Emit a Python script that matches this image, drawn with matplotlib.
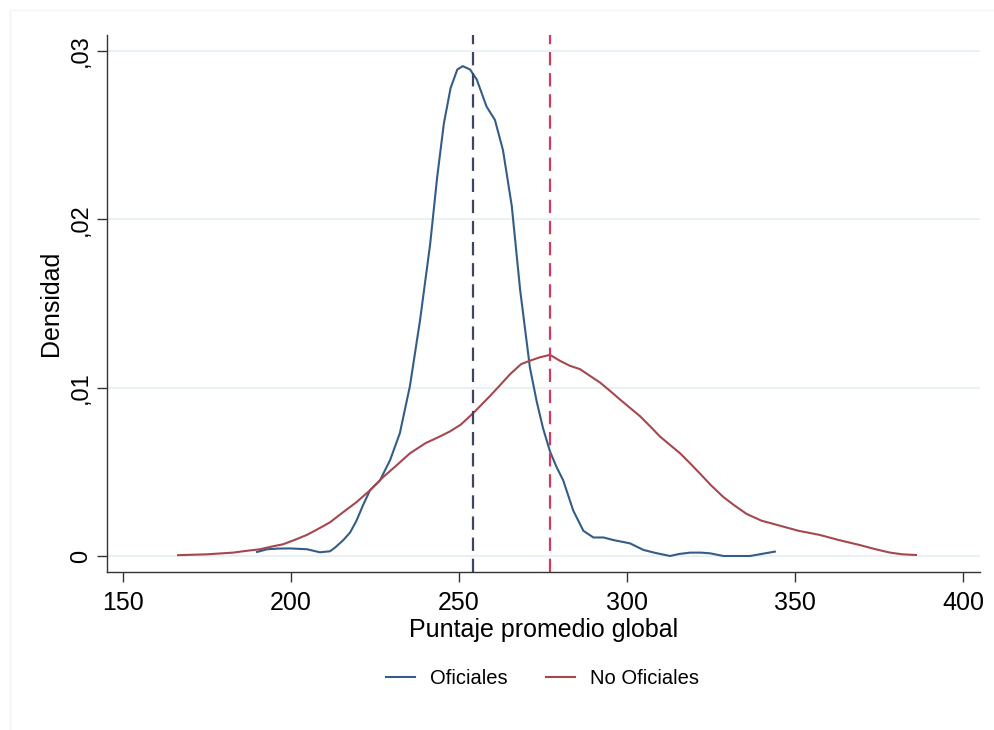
import numpy as np
import matplotlib.pyplot as plt
from matplotlib.patches import Rectangle

plt.rcParams['font.family'] = ['Liberation Sans', 'DejaVu Sans']

# Oficiales (kernel density)
x_of = [189.9, 192.9, 196.0, 199.7, 204.8, 208.6, 211.6, 213.1, 215.6, 217.6, 219.5, 221.4,
        223.5, 226.5, 229.5, 232.4, 235.4, 238.4, 241.4, 243.5, 245.5, 247.5, 249.5, 251.1,
        253.3, 255.3, 258.2, 260.7, 263.1, 265.7, 268.2, 271.1, 273.1, 275.0, 277.1, 279.0,
        281.0, 284.0, 287.0, 290.0, 293.0, 295.9, 300.9, 304.9, 308.5, 312.8, 315.5, 318.8,
        322.0, 324.7, 328.7, 332.0, 336.6, 340.0, 344.0]
y_of = [0.00024, 0.0004, 0.00044, 0.00045, 0.0004, 0.00022, 0.00028, 0.0005, 0.00095, 0.0014,
        0.0021, 0.003, 0.0039, 0.0045, 0.0057, 0.0073, 0.0101, 0.0140, 0.0185, 0.0225, 0.0257,
        0.0278, 0.0289, 0.0291, 0.0289, 0.0283, 0.0267, 0.0259, 0.0241, 0.0208, 0.0158, 0.0112,
        0.0092, 0.0076, 0.0062, 0.0053, 0.0045, 0.0027, 0.0015, 0.0011, 0.0011, 0.00095,
        0.00075, 0.00036, 0.00018, 0.0, 0.00012, 0.0002, 0.0002, 0.00016, 0.0, 0.0, 0.0,
        0.00012, 0.00026]

# No Oficiales
x_no = [166.4, 175.0, 182.7, 186.5, 190.8, 194.0, 197.7, 201.0, 204.7, 208.0, 211.6, 215.5,
        219.5, 223.5, 227.5, 231.5, 235.4, 240.0, 244.3, 247.3, 250.5, 254.3, 259.2, 262.0,
        265.2, 268.5, 271.1, 274.0, 277.1, 280.0, 283.0, 286.0, 289.0, 292.0, 295.0, 297.9,
        300.9, 303.9, 306.9, 309.8, 312.8, 315.8, 318.8, 321.7, 325.0, 328.7, 332.0, 335.6,
        340.0, 345.5, 351.0, 357.4, 363.0, 369.3, 374.0, 378.3, 382.0, 386.0]
y_no = [0.00005, 0.0001, 0.0002, 0.0003, 0.0004, 0.00055, 0.0007, 0.00095, 0.00125, 0.0016,
        0.0020, 0.0026, 0.0032, 0.0039, 0.0047, 0.0054, 0.0061, 0.0067, 0.0071, 0.0074, 0.0078,
        0.0085, 0.0095, 0.0101, 0.0108, 0.0114, 0.0116, 0.0118, 0.01195, 0.0116, 0.0113,
        0.0111, 0.0107, 0.0103, 0.0098, 0.0093, 0.0088, 0.0083, 0.0077, 0.0071, 0.0066,
        0.0061, 0.0055, 0.0049, 0.0042, 0.0035, 0.003, 0.0025, 0.0021, 0.0018, 0.0015,
        0.00125, 0.00095, 0.00065, 0.0004, 0.0002, 0.0001, 0.00006]

# group means (vertical dashed lines)
mean_of = 254.2
mean_no = 277.1

xticks = [150, 200, 250, 300, 350, 400]
yticks = [0, 0.01, 0.02, 0.03]
ytick_labels = ['0', ',01', ',02', ',03']

blue = '#335d87'
red = '#a6474f'

fig = plt.figure(figsize=(9.94, 7.3), dpi=100)
fig.patches.append(Rectangle((10 / 994, -0.01), 1.0, 1 - 10 / 730 + 0.01,
                             transform=fig.transFigure, fill=False,
                             edgecolor='#f0f2f4', linewidth=1))
ax = fig.add_axes([107 / 994, 1 - 572 / 730, (980 - 107) / 994, (572 - 35) / 730])

for y in yticks:
    ax.axhline(y, color='#eaf1f3', linewidth=1.5, zorder=0)

ax.plot(x_of, y_of, color=blue, linewidth=1.5, label='Oficiales', solid_joinstyle='round')
ax.plot(x_no, y_no, color=red, linewidth=1.5, label='No Oficiales', solid_joinstyle='round')
ax.axvline(mean_of, color='#3d4466', linewidth=1.6, dashes=(6, 3.5))
ax.axvline(mean_no, color='#d23a5e', linewidth=1.6, dashes=(6, 3.5))

ax.set_xlim(150 - 16 / 3.36, 400 + 17 / 3.36)
ax.set_ylim(-16 / 16830, 0.03 + 16 / 16830)
ax.set_xticks(xticks)
ax.set_yticks(yticks)
ax.set_yticklabels(ytick_labels, rotation=90, va='center')
ax.tick_params(axis='both', length=7, width=1, color='#333333')
ax.tick_params(axis='x', labelsize=18, pad=7)
ax.tick_params(axis='y', labelsize=17, pad=4)

for s in ['top', 'right']:
    ax.spines[s].set_visible(False)
for s in ['left', 'bottom']:
    ax.spines[s].set_color('#333333')
    ax.spines[s].set_linewidth(1)

ax.set_xlabel('Puntaje promedio global', fontsize=18, labelpad=2)
ax.set_ylabel('Densidad', fontsize=18, labelpad=5)

fig.legend(loc='center', bbox_to_anchor=(0.546, 0.071), ncol=2, frameon=False,
           fontsize=14.5, handlelength=1.45, columnspacing=1.9, handletextpad=0.75)

fig.savefig('out.png', dpi=100)
